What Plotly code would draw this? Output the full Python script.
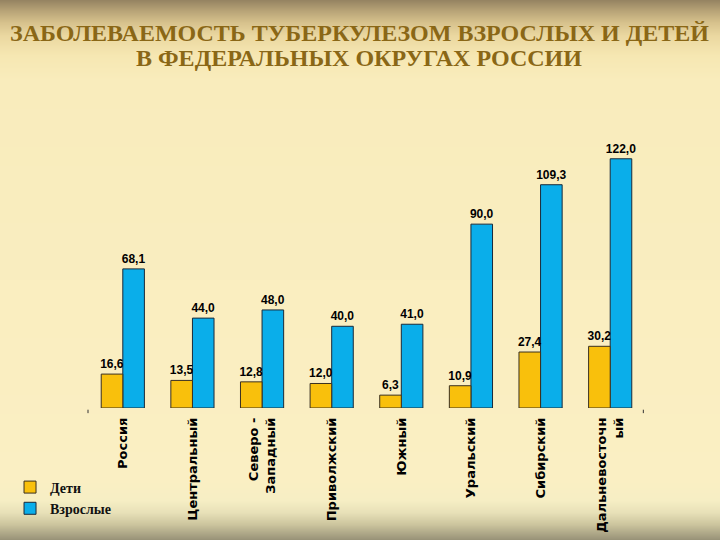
import base64, struct, zlib
import plotly.graph_objects as go

categories = ["Россия", "Центральный", "Северо -<br>Западный", "Приволжский",
              "Южный", "Уральский", "Сибирский", "Дальневосточн<br>ый"]
children = [16.6, 13.5, 12.8, 12.0, 6.3, 10.9, 27.4, 30.2]
adults = [68.1, 44.0, 48.0, 40.0, 41.0, 90.0, 109.3, 122.0]
series_names = ["Дети", "Взрослые"]


def fmt(v):
    return f"{v:.1f}".replace(".", ",")


# ---- background gradient image (vertical) ----
def lerp(a, b, t):
    return tuple(int(round(a[i] + (b[i] - a[i]) * t)) for i in range(3))

stops = [(0, (150, 132, 98)), (10, (182, 162, 118)), (22, (214, 193, 140)),
         (35, (234, 215, 160)), (55, (246, 231, 178)), (80, (249, 236, 188)),
         (480, (250, 239, 195)), (500, (246, 238, 196)), (512, (232, 225, 184)),
         (524, (204, 197, 158)), (540, (150, 144, 118))]

def color_at(y):
    for (y0, c0), (y1, c1) in zip(stops, stops[1:]):
        if y0 <= y <= y1:
            return lerp(c0, c1, (y - y0) / (y1 - y0))
    return stops[-1][1]

W, H = 4, 540
raw = b""
for y in range(H):
    c = color_at(y)
    raw += b"\x00" + bytes(c) * W

def chunk(tag, data):
    return struct.pack(">I", len(data)) + tag + data + struct.pack(">I", zlib.crc32(tag + data) & 0xffffffff)

png = b"\x89PNG\r\n\x1a\n" + chunk(b"IHDR", struct.pack(">IIBBBBB", W, H, 8, 2, 0, 0, 0)) \
    + chunk(b"IDAT", zlib.compress(raw)) + chunk(b"IEND", b"")
bg_src = "data:image/png;base64," + base64.b64encode(png).decode()

label_font = dict(family="Liberation Sans Narrow, Liberation Sans, Arial",
                  size=12, color="black", weight="bold")

BW = 0.31  # bar width in category units

fig = go.Figure()
# adults drawn first so the children's labels sit on top of the blue bars
fig.add_trace(go.Bar(
    x=categories, y=adults, name=series_names[1], legendgroup="b",
    width=BW, offset=0,
    marker=dict(color="#0AAEEA", line=dict(color="#1a2a3a", width=1)),
    text=[fmt(v) for v in adults], textposition="outside", constraintext="none",
    textfont=label_font, cliponaxis=False,
))
fig.add_trace(go.Bar(
    x=categories, y=children, name=series_names[0], legendgroup="a",
    width=BW, offset=-BW,
    marker=dict(color="#F9C00C", line=dict(color="#3a3020", width=1)),
    text=[fmt(v) for v in children], textposition="outside", constraintext="none",
    textfont=label_font, cliponaxis=False,
))

fig.update_layout(
    width=720, height=540,
    margin=dict(l=88, r=75, t=122, b=132, autoexpand=False),
    paper_bgcolor="#F9ECBC", plot_bgcolor="rgba(0,0,0,0)",
    barmode="overlay",
    showlegend=True,
    legend=dict(x=-0.14, y=-0.222, xanchor="left", yanchor="top",
                bgcolor="rgba(0,0,0,0)", tracegroupgap=4, traceorder="reversed",
                font=dict(family="Liberation Serif, Times New Roman", size=14,
                          color="#111", weight="bold"),
                itemwidth=30),
    annotations=[
        dict(text="ЗАБОЛЕВАЕМОСТЬ ТУБЕРКУЛЕЗОМ ВЗРОСЛЫХ И ДЕТЕЙ",
             xref="paper", yref="paper", x=(359 - 88) / 557, y=(408 - 33) / 286,
             xanchor="center", yanchor="middle", showarrow=False,
             font=dict(family="Liberation Serif, Times New Roman", size=24,
                       color="#8A6716", weight="bold")),
        dict(text="В ФЕДЕРАЛЬНЫХ ОКРУГАХ РОССИИ",
             xref="paper", yref="paper", x=(359 - 88) / 557, y=(408 - 58) / 286,
             xanchor="center", yanchor="middle", showarrow=False,
             font=dict(family="Liberation Serif, Times New Roman", size=24,
                       color="#8A6716", weight="bold")),
    ],
    shapes=[
        dict(type="line", xref="paper", yref="paper", x0=0, x1=0,
             y0=-0.006, y1=-0.018, line=dict(color="#333", width=1)),
        dict(type="line", xref="paper", yref="paper", x0=0.997, x1=0.997,
             y0=-0.006, y1=-0.018, line=dict(color="#333", width=1)),
    ],
    images=[dict(source=bg_src, xref="paper", yref="paper",
                 x=-88 / 557, y=408 / 286, sizex=720 / 557, sizey=540 / 286,
                 xanchor="left", yanchor="top", sizing="stretch", layer="below")],
)
fig.update_xaxes(
    showgrid=False, zeroline=False, showline=False, ticks="", automargin=False,
    tickangle=-90, ticklabelstandoff=6,
    tickfont=dict(family="DejaVu Sans", size=13, color="black", weight="bold"),
)
fig.update_yaxes(range=[0, 140], visible=False, showgrid=False, zeroline=False,
                 automargin=False)

fig.write_html("out.html")
